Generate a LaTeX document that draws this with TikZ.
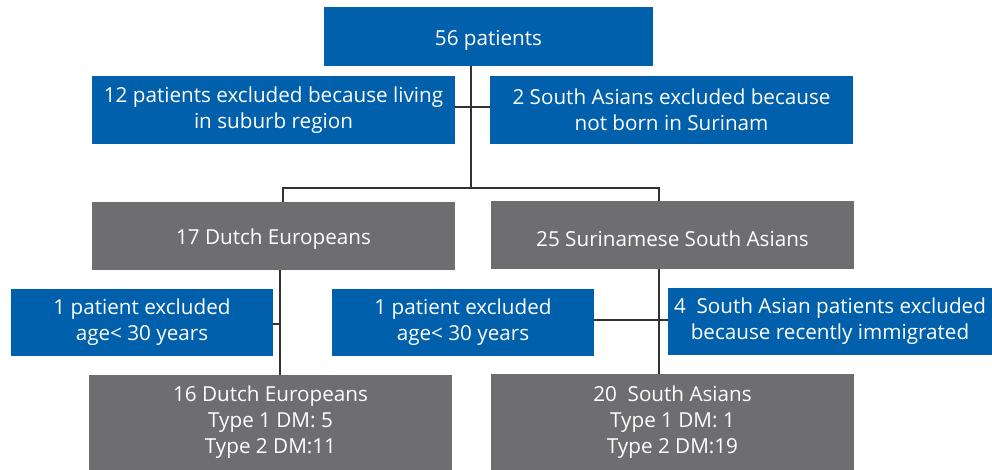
\documentclass[tikz,border=0pt]{standalone}
\usepackage{fontspec}
\setmainfont{Open Sans}
\definecolor{nblue}{RGB}{0,96,172}
\definecolor{ngray}{RGB}{110,110,112}
\definecolor{nline}{RGB}{50,50,50}
\tikzset{
	box/.style={rectangle, text=white, align=center, inner sep=0pt, font=\fontsize{15.5}{19.5}\selectfont, execute at begin node={\rule{0pt}{17pt}}},
	bluebox/.style={box, fill=nblue},
	graybox/.style={box, fill=ngray},
	link/.style={draw=nline, line width=1.3pt}
}
\begin{document}
\begin{tikzpicture}[x=0.75pt,y=0.75pt,yscale=-1,xscale=1]
	\useasboundingbox (0,0) rectangle (992,470);
	\node [bluebox, minimum width=329*0.75pt, minimum height=59*0.75pt] (total) at (488.5,36.5) {56 patients};
	\node [bluebox, minimum width=363*0.75pt, minimum height=68*0.75pt] (suburb) at (273.5,110) {12 patients excluded because living\\in suburb region};
	\node [bluebox, minimum width=363*0.75pt, minimum height=68*0.75pt] (surinam) at (671.5,110) {2 South Asians excluded because\\not born in Surinam};
	\node [graybox, minimum width=363*0.75pt, minimum height=68*0.75pt] (dutch) at (273.5,236) {17 Dutch Europeans};
	\node [graybox, minimum width=363*0.75pt, minimum height=68*0.75pt] (asian) at (672.5,235) {25 Surinamese South Asians};
	\node [bluebox, minimum width=262*0.75pt, minimum height=67*0.75pt] (ageD) at (142,322.5) {1 patient excluded\\age< 30 years};
	\node [bluebox, minimum width=262*0.75pt, minimum height=67*0.75pt] (ageA) at (463,322.5) {1 patient excluded\\age< 30 years};
	\node [bluebox, minimum width=324*0.75pt, minimum height=67*0.75pt] (immig) at (830,321.5) {4~ South Asian patients excluded\\because recently immigrated};
	\node [graybox, minimum width=363*0.75pt, minimum height=95*0.75pt] (dutchF) at (270.5,422.5) {16 Dutch Europeans\\Type 1 DM: 5\\Type 2 DM:11};
	\node [graybox, minimum width=363*0.75pt, minimum height=96*0.75pt] (asianF) at (672.5,422) {20~ South Asians\\Type 1 DM: 1\\Type 2 DM:19};
	\coordinate (split) at (471,188);
	\coordinate (cross) at (471,107);
	\coordinate (dtop) at (283,188);
	\coordinate (atop) at (659,188);
	\coordinate (dmid) at (280,324);
	\coordinate (amid) at (659,320);
	\draw [link] (total.south -| split) -- (split);
	\draw [link] (suburb.east |- cross) -- (surinam.west |- cross);
	\draw [link] (dutch.north -| dtop) -- (dtop) -- (atop) -- (asian.north -| atop);
	\draw [link] (dutch.south -| dmid) -- (dutchF.north -| dmid);
	\draw [link] (ageD.east |- dmid) -- (dmid);
	\draw [link] (asian.south -| amid) -- (asianF.north -| amid);
	\draw [link] (ageA.east |- amid) -- (immig.west |- amid);
\end{tikzpicture}
\end{document}
